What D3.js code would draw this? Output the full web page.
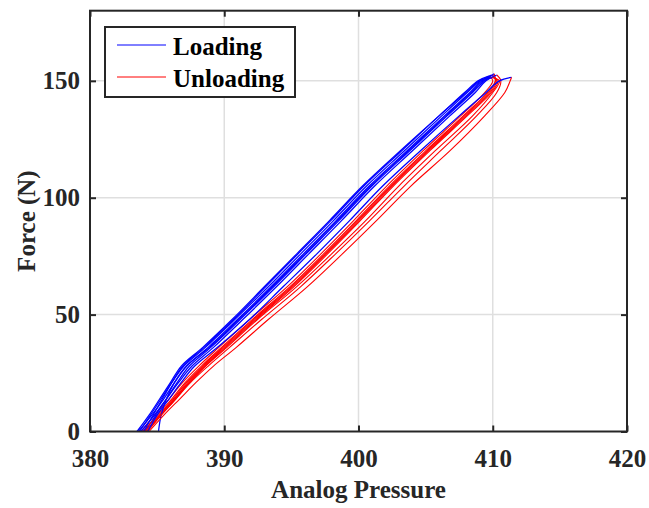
<!DOCTYPE html>
<html>
<head>
<meta charset="utf-8">
<script src="https://cdn.jsdelivr.net/npm/d3@7"></script>
<style>
  body { margin: 0; background: #fff; }
  text { font-family: "Liberation Serif", "Times New Roman", serif; font-weight: bold; fill: #262626; }
</style>
</head>
<body>
<script>
// force levels (N) at which each cycle's pressure was read
const forceLevels = [0, 7, 14, 21, 28, 36, 48, 62, 76, 90, 105, 120, 135, 145, 150];

// loading branches, one per cycle (analog pressure)
const loading = [
  [383.6, 384.6, 385.5, 386.3, 387.2, 388.8, 391.0, 393.5, 395.9, 398.3, 400.8, 403.6, 406.4, 408.3, 409.2],
  [383.5, 384.4, 385.2, 386.0, 386.8, 388.4, 390.6, 393.0, 395.4, 397.8, 400.3, 403.1, 406.0, 407.9, 408.9],
  [383.7, 384.5, 385.3, 386.1, 387.0, 388.6, 390.8, 393.3, 395.7, 398.1, 400.6, 403.4, 406.2, 408.1, 409.1],
  [384.1, 384.9, 385.7, 386.5, 387.4, 389.0, 391.2, 393.7, 396.1, 398.5, 401.0, 403.8, 406.6, 408.5, 409.4],
  [383.8, 384.8, 385.7, 386.6, 387.6, 389.2, 391.4, 393.9, 396.3, 398.7, 401.2, 404.0, 406.8, 408.7, 409.5],
  [384.0, 384.7, 385.4, 386.1, 386.9, 388.5, 390.7, 393.1, 395.5, 397.9, 400.4, 403.2, 406.0, 408.0, 409.0],
  [385.1, 385.3, 385.7, 386.3, 387.2, 388.9, 391.1, 393.6, 396.0, 398.4, 400.9, 403.7, 406.5, 408.4, 409.3],
  [384.3, 385.0, 385.9, 386.8, 387.8, 389.5, 391.9, 394.4, 396.9, 399.3, 401.8, 404.6, 407.5, 409.5, 410.5]
];

// unloading branches, listed from low to high force
const unloading = [
  [384.0, 385.0, 386.1, 387.1, 388.3, 389.8, 392.1, 394.9, 397.4, 399.8, 402.3, 405.0, 407.8, 409.6, 410.2],
  [383.8, 384.8, 385.9, 386.9, 388.1, 389.6, 391.9, 394.7, 397.2, 399.6, 402.1, 404.8, 407.6, 409.4, 410.0],
  [384.2, 385.2, 386.3, 387.3, 388.5, 390.0, 392.3, 395.1, 397.6, 400.0, 402.5, 405.2, 408.0, 409.8, 410.3],
  [383.9, 385.1, 386.2, 387.2, 388.4, 389.9, 392.2, 395.0, 397.5, 399.9, 402.4, 405.1, 407.9, 409.7, 410.2],
  [384.2, 385.3, 386.4, 387.5, 388.8, 390.4, 392.8, 395.7, 398.3, 400.8, 403.4, 406.1, 408.8, 410.3, 410.6],
  [384.1, 385.2, 386.3, 387.4, 388.6, 390.2, 392.5, 395.4, 398.0, 400.5, 403.0, 405.7, 408.5, 410.0, 410.5],
  [384.3, 385.3, 386.4, 387.4, 388.6, 390.1, 392.4, 395.2, 397.7, 400.1, 402.6, 405.3, 408.1, 409.9, 410.4],
  [384.4, 385.5, 386.7, 387.9, 389.2, 390.9, 393.3, 396.2, 398.8, 401.3, 403.9, 406.8, 409.4, 410.9, 411.3]
];

// peak of every cycle
const peakPressure = [410.0, 409.7, 409.9, 410.1, 410.3, 409.8, 410.0, 411.4];
const peakForce = [152.5, 152, 152.5, 153, 152.5, 151.5, 151.5, 151.5];

const xTicks = [380, 390, 400, 410, 420];
const yTicks = [0, 50, 100, 150];

const width = 649,
  height = 508;
const plotLeft = 90,
  plotRight = 627,
  plotTop = 10.7,
  plotBottom = 431.5;

let svg, xScale, yScale;

const drawCanvas = () => {
  svg = d3
    .select("body")
    .append("svg")
    .attr("width", width)
    .attr("height", height);
};

const generateScales = () => {
  xScale = d3.scaleLinear().domain([380, 420]).range([plotLeft, plotRight]);
  yScale = d3.scaleLinear().domain([0, 180]).range([plotBottom, plotTop]);
};

const drawGrid = () => {
  const grid = svg.append("g").attr("id", "grid");
  grid
    .selectAll("line.gx")
    .data(xTicks.slice(1, -1))
    .enter()
    .append("line")
    .attr("x1", (d) => xScale(d))
    .attr("x2", (d) => xScale(d))
    .attr("y1", plotTop)
    .attr("y2", plotBottom)
    .style("stroke", "#dfdfdf")
    .style("stroke-width", 1.5);
  grid
    .selectAll("line.gy")
    .data(yTicks.slice(1))
    .enter()
    .append("line")
    .attr("x1", plotLeft)
    .attr("x2", plotRight)
    .attr("y1", (d) => yScale(d))
    .attr("y2", (d) => yScale(d))
    .style("stroke", "#dfdfdf")
    .style("stroke-width", 1.5);
};

const drawCycles = () => {
  const line = d3
    .line()
    .x((d) => xScale(d[0]))
    .y((d) => yScale(d[1]))
    .curve(d3.curveCatmullRom);

  loading.forEach((cycle, i) => {
    const peak = [peakPressure[i], peakForce[i]];
    const up = cycle.map((p, j) => [p, forceLevels[j]]).concat([peak]);
    const down = [peak].concat(
      unloading[i].map((p, j) => [p, forceLevels[j]]).reverse()
    );

    svg
      .append("path")
      .attr("d", line(up))
      .style("fill", "none")
      .style("stroke", "#0000ff")
      .style("stroke-width", 1.25);

    svg
      .append("path")
      .attr("d", line(down))
      .style("fill", "none")
      .style("stroke", "#ff0000")
      .style("stroke-width", 1.1);
  });
};

const generateAxis = () => {
  const xAxis = d3
    .axisBottom(xScale)
    .tickValues(xTicks)
    .tickSizeInner(-6)
    .tickSizeOuter(0)
    .tickPadding(18);
  svg
    .append("g")
    .attr("id", "x-axis")
    .attr("transform", "translate(0," + plotBottom + ")")
    .call(xAxis);

  const yAxis = d3
    .axisLeft(yScale)
    .tickValues(yTicks)
    .tickSizeInner(-6)
    .tickSizeOuter(0)
    .tickPadding(10);
  svg
    .append("g")
    .attr("id", "y-axis")
    .attr("transform", "translate(" + plotLeft + ",0)")
    .call(yAxis);

  // ticks only on top and right
  svg
    .append("g")
    .attr("transform", "translate(0," + plotTop + ")")
    .call(d3.axisTop(xScale).tickValues(xTicks).tickSizeInner(-6).tickSizeOuter(0).tickFormat(""));
  svg
    .append("g")
    .attr("transform", "translate(" + plotRight + ",0)")
    .call(d3.axisRight(yScale).tickValues(yTicks).tickSizeInner(-6).tickSizeOuter(0).tickFormat(""));

  svg.selectAll(".domain").remove();
  svg.selectAll(".tick line").style("stroke", "#262626").style("stroke-width", 2);
  svg
    .selectAll(".tick text")
    .style("font-family", "Liberation Serif, serif")
    .style("font-weight", "bold")
    .style("font-size", "25px")
    .style("fill", "#262626");

  svg
    .append("rect")
    .attr("x", plotLeft)
    .attr("y", plotTop)
    .attr("width", plotRight - plotLeft)
    .attr("height", plotBottom - plotTop)
    .style("fill", "none")
    .style("stroke", "#262626")
    .style("stroke-width", 2);

  svg
    .append("text")
    .attr("x", (plotLeft + plotRight) / 2)
    .attr("y", 498)
    .attr("text-anchor", "middle")
    .style("font-size", "25px")
    .text("Analog Pressure");

  svg
    .append("text")
    .attr("transform", "translate(35," + (plotTop + plotBottom) / 2 + ") rotate(-90)")
    .attr("text-anchor", "middle")
    .style("font-size", "25px")
    .text("Force (N)");
};

const drawLegend = () => {
  const legend = svg.append("g").attr("id", "legend");
  legend
    .append("rect")
    .attr("x", 105)
    .attr("y", 27)
    .attr("width", 190)
    .attr("height", 70)
    .style("fill", "#fff")
    .style("stroke", "#262626")
    .style("stroke-width", 2);

  const items = [
    { label: "Loading", color: "#0000ff", y: 45 },
    { label: "Unloading", color: "#ff0000", y: 77 }
  ];
  items.forEach((d) => {
    legend
      .append("line")
      .attr("x1", 117)
      .attr("x2", 166)
      .attr("y1", d.y)
      .attr("y2", d.y)
      .style("stroke", d.color)
      .style("stroke-width", 1);
    legend
      .append("text")
      .attr("x", 173)
      .attr("y", d.y + 10)
      .style("font-size", "25px")
      .style("fill", "#000")
      .text(d.label);
  });
};

drawCanvas();
generateScales();
drawGrid();
drawCycles();
generateAxis();
drawLegend();
</script>
</body>
</html>
